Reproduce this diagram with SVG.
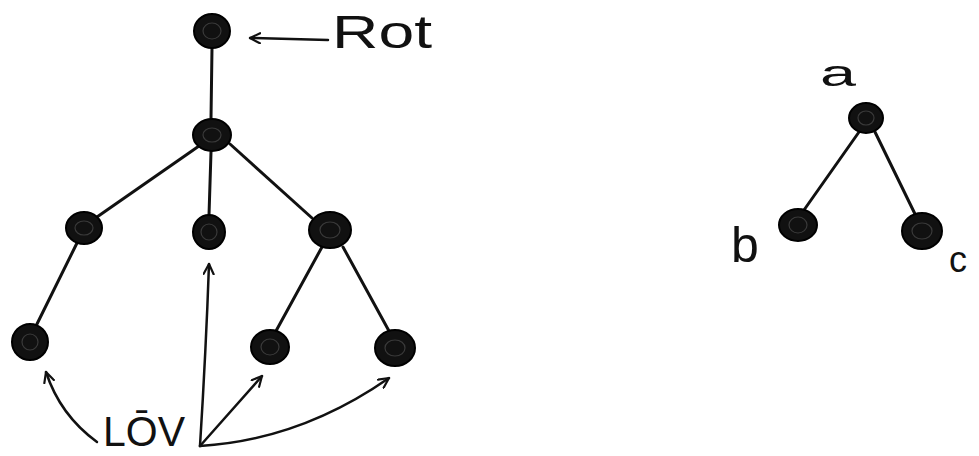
<svg xmlns="http://www.w3.org/2000/svg" width="979" height="456" viewBox="0 0 979 456">
<defs>
<style>
.node{fill:#111;stroke:#000;stroke-width:2}
.ring{fill:none;stroke:#3a3a3a;stroke-width:1.2}
.edge{fill:none;stroke:#111;stroke-width:3;stroke-linecap:round}
.arrow{fill:none;stroke:#111;stroke-width:2.5;stroke-linecap:round;stroke-linejoin:round}
.lbl{font-family:"Liberation Sans",Arial,sans-serif;fill:#111}
</style>
<marker id="ah" viewBox="0 0 12 12" refX="11" refY="6" markerWidth="12" markerHeight="12" markerUnits="userSpaceOnUse" orient="auto">
<path d="M1,1 L11,6 L1,11" fill="none" stroke="#111" stroke-width="2.2" stroke-linecap="round" stroke-linejoin="round"/>
</marker>
</defs>
<rect width="979" height="456" fill="#fff"/>
<g id="connectors">
<path class="edge" d="M212,48 L211,118"/>
<path class="edge" d="M199,146 L97,217"/>
<path class="edge" d="M211,152 L209,215"/>
<path class="edge" d="M230,144 L312,218"/>
<path class="edge" d="M77,243 L36,326"/>
<path class="edge" d="M322,247 L276,331"/>
<path class="edge" d="M343,247 L389,331"/>
<path class="edge" d="M859,132 L804,210"/>
<path class="edge" d="M875,132 L915,214"/>
<path class="arrow" d="M328,40 L250,38" marker-end="url(#ah)"/>
<path class="arrow" d="M97,442 Q60,415 46,372" marker-end="url(#ah)"/>
<path class="arrow" d="M200,446 Q206,350 209,264" marker-end="url(#ah)"/>
<path class="arrow" d="M200,446 L262,376" marker-end="url(#ah)"/>
<path class="arrow" d="M200,446 Q300,440 389,378" marker-end="url(#ah)"/>
</g>
<g id="root"><ellipse class="node" cx="212" cy="31" rx="18" ry="17"/><ellipse class="ring" cx="212" cy="31" rx="9" ry="8"/></g>
<g id="n1"><ellipse class="node" cx="212" cy="135" rx="19" ry="16"/><ellipse class="ring" cx="212" cy="135" rx="9" ry="7"/></g>
<g id="n2"><ellipse class="node" cx="84" cy="228" rx="18" ry="16"/><ellipse class="ring" cx="84" cy="228" rx="9" ry="7"/></g>
<g id="n3"><ellipse class="node" cx="209" cy="232" rx="16" ry="17"/><ellipse class="ring" cx="209" cy="232" rx="8" ry="8"/></g>
<g id="n4"><ellipse class="node" cx="330" cy="230" rx="21" ry="18"/><ellipse class="ring" cx="330" cy="230" rx="10" ry="8"/></g>
<g id="n5"><ellipse class="node" cx="30" cy="342" rx="18" ry="18"/><ellipse class="ring" cx="30" cy="342" rx="8" ry="8"/></g>
<g id="n6"><ellipse class="node" cx="270" cy="347" rx="19" ry="17"/><ellipse class="ring" cx="270" cy="347" rx="9" ry="8"/></g>
<g id="n7"><ellipse class="node" cx="395" cy="348" rx="20" ry="18"/><ellipse class="ring" cx="395" cy="348" rx="10" ry="8"/></g>
<g id="a"><ellipse class="node" cx="866" cy="118" rx="17" ry="15"/><ellipse class="ring" cx="866" cy="118" rx="8" ry="7"/></g>
<g id="b"><ellipse class="node" cx="798" cy="225" rx="19" ry="16"/><ellipse class="ring" cx="798" cy="225" rx="9" ry="8"/></g>
<g id="c"><ellipse class="node" cx="922" cy="231" rx="20" ry="18"/><ellipse class="ring" cx="922" cy="231" rx="10" ry="8"/></g>
<g id="labels">
<text class="lbl" x="332" y="48" font-size="46" textLength="100" lengthAdjust="spacingAndGlyphs">Rot</text>
<text class="lbl" x="103" y="446" font-size="42" textLength="82" lengthAdjust="spacingAndGlyphs">LŌV</text>
<text class="lbl" x="820" y="86" font-size="36" textLength="36" lengthAdjust="spacingAndGlyphs">a</text>
<text class="lbl" x="731" y="262" font-size="50">b</text>
<text class="lbl" x="949" y="272" font-size="36">c</text>
</g>
</svg>
